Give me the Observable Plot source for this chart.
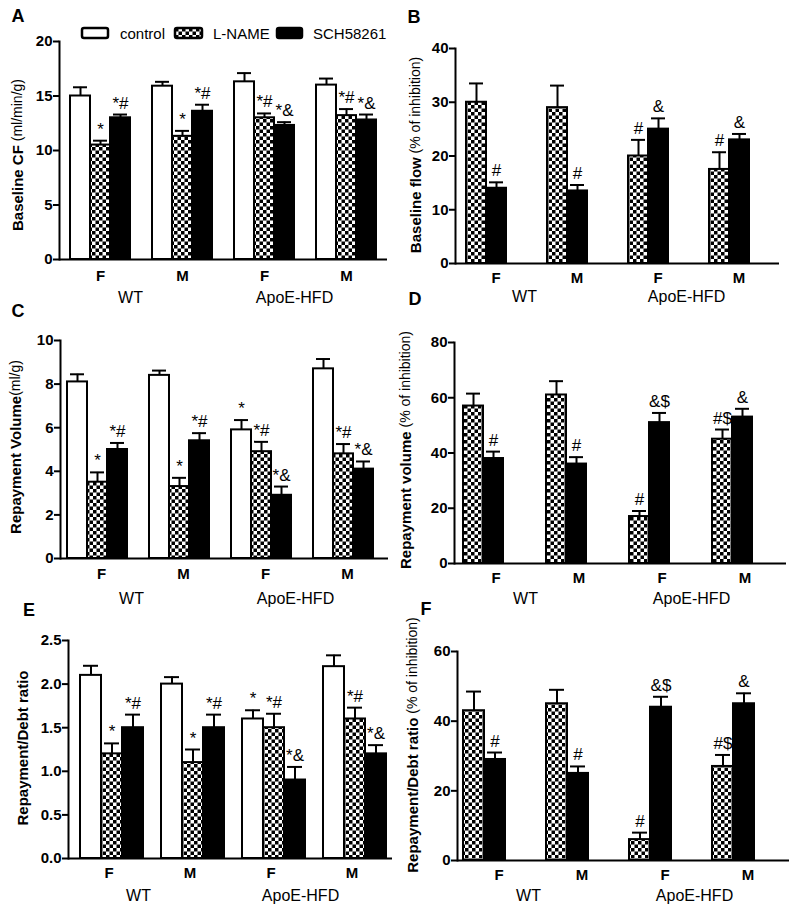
<!DOCTYPE html>
<html><head><meta charset="utf-8">
<script src="https://cdn.jsdelivr.net/npm/d3@7"></script>
<script src="https://cdn.jsdelivr.net/npm/@observablehq/plot@0.6"></script>
<style>
body{margin:0;background:#fff;}
#root{position:relative;width:800px;height:912px;overflow:hidden;font-family:"Liberation Sans",Arial,sans-serif;}
.panel{position:absolute;}
#overlay{position:absolute;left:0;top:0;pointer-events:none;}
</style></head><body>
<svg width="0" height="0" style="position:absolute"><defs>
<pattern id="checker" width="7" height="7" patternUnits="userSpaceOnUse">
<rect width="7" height="7" fill="#fff"/><rect width="3.5" height="3.5" fill="#000"/><rect x="3.5" y="3.5" width="3.5" height="3.5" fill="#000"/>
</pattern></defs></svg>
<div id="root"></div>
<script>
// ---- categories ----
const groups = ["WT-F","WT-M","ApoE-F","ApoE-M"];
const groupTicks = ["F","M","F","M"];
const genotypeGroups = ["WT-F","ApoE-F"];
const genotypeLabels = ["WT","ApoE-HFD"];
const treatments = ["control","L-NAME","SCH58261"];
const inhibitors = ["L-NAME","SCH58261"];
const fills = ["white","url(#checker)","black"];

// ---- Panel A: Baseline CF (ml/min/g) ----
const aControl = [15.0,15.9,16.3,16.0], aControlSem = [0.8,0.4,0.8,0.6], aControlSig = ["","","",""];
const aLname   = [10.5,11.3,13.0,13.2], aLnameSem   = [0.4,0.5,0.4,0.6], aLnameSig   = ["*","*","*#","*#"];
const aSch     = [13.0,13.6,12.3,12.8], aSchSem     = [0.3,0.6,0.3,0.5], aSchSig     = ["*#","*#","*&","*&"];
const aTicks = [0,5,10,15,20];

// ---- Panel B: Baseline flow (% of inhibition) ----
const bLname = [30,29,20,17.5], bLnameSem = [3.5,4.1,3.0,3.2], bLnameSig = ["","","#","#"];
const bSch   = [14,13.5,25,23], bSchSem   = [1.1,1.1,2.0,1.1], bSchSig   = ["#","#","&","&"];
const bTicks = [0,10,20,30,40];

// ---- Panel C: Repayment Volume (ml/g) ----
const cControl = [8.1,8.4,5.9,8.7], cControlSem = [0.35,0.22,0.45,0.45], cControlSig = ["","","*",""];
const cLname   = [3.5,3.3,4.9,4.8], cLnameSem   = [0.45,0.4,0.45,0.45], cLnameSig   = ["*","*","*#","*#"];
const cSch     = [5.0,5.4,2.9,4.1], cSchSem     = [0.3,0.35,0.4,0.35], cSchSig     = ["*#","*#","*&","*&"];
const cTicks = [0,2,4,6,8,10];

// ---- Panel D: Repayment volume (% of inhibition) ----
const dLname = [57,61,17,45], dLnameSem = [4.5,5,2,3.5], dLnameSig = ["","","#","#$"];
const dSch   = [38,36,51,53], dSchSem   = [2.5,2.5,3.5,3], dSchSig   = ["#","#","&$","&"];
const dTicks = [0,20,40,60,80];

// ---- Panel E: Repayment/Debt ratio ----
const eControl = [2.1,2.0,1.6,2.2], eControlSem = [0.11,0.08,0.1,0.13], eControlSig = ["","","*",""];
const eLname   = [1.2,1.1,1.5,1.6], eLnameSem   = [0.12,0.15,0.16,0.13], eLnameSig   = ["*","*","*#","*#"];
const eSch     = [1.5,1.5,0.9,1.2], eSchSem     = [0.15,0.15,0.15,0.1], eSchSig     = ["*#","*#","*&","*&"];
const eTicks = [0,0.5,1.0,1.5,2.0,2.5];

// ---- Panel F: Repayment/Debt ratio (% of inhibition) ----
const fLname = [43,45,6,27], fLnameSem = [5.5,4,2,3.3], fLnameSig = ["","","#","#$"];
const fSch   = [29,25,44,45], fSchSem   = [2,2,3,3], fSchSig   = ["#","#","&$","&"];
const fTicks = [0,20,40,60];

function rows(treatment, mean, sem, sig) {
  return groups.map((g, i) => ({group: g, treatment, mean: mean[i], sem: sem[i], sig: sig[i]}));
}
const genoData = genotypeGroups.map((g, i) => ({group: g, label: genotypeLabels[i]}));

const panels = [
  {left:0, top:0, width:400, height:300, mt:41, mr:12, mb:41, ml:58, yMax:20, ticks:aTicks, fmt:d=>d,
   tr:treatments, po:0.464, align:0.49, tp:11, gdy:38, gdx:-11,
   data:[...rows("control",aControl,aControlSem,aControlSig),...rows("L-NAME",aLname,aLnameSem,aLnameSig),...rows("SCH58261",aSch,aSchSem,aSchSig)]},
  {left:400, top:0, width:400, height:300, mt:48, mr:20, mb:37, ml:54, yMax:40, ticks:bTicks, fmt:d=>d,
   tr:inhibitors, po:0.94, align:0.28, tp:9, gdy:33, gdx:-12,
   data:[...rows("L-NAME",bLname,bLnameSem,bLnameSig),...rows("SCH58261",bSch,bSchSem,bSchSig)]},
  {left:0, top:300, width:400, height:310, mt:40, mr:11, mb:52, ml:58, yMax:10, ticks:cTicks, fmt:d=>d,
   tr:treatments, po:0.47, align:0.33, tp:10, gdy:40, gdx:-11,
   data:[...rows("control",cControl,cControlSem,cControlSig),...rows("L-NAME",cLname,cLnameSem,cLnameSig),...rows("SCH58261",cSch,cSchSem,cSchSig)]},
  {left:400, top:300, width:400, height:310, mt:42, mr:13, mb:47, ml:53, yMax:80, ticks:dTicks, fmt:d=>d,
   tr:inhibitors, po:1.0, align:0.22, tp:9, gdy:35, gdx:-12,
   data:[...rows("L-NAME",dLname,dLnameSem,dLnameSig),...rows("SCH58261",dSch,dSchSem,dSchSig)]},
  {left:0, top:610, width:400, height:302, mt:30, mr:7, mb:54, ml:67, yMax:2.5, ticks:eTicks, fmt:d3.format(".1f"),
   tr:treatments, po:0.41, align:0.65, tp:9, gdy:37, gdx:-11,
   data:[...rows("control",eControl,eControlSem,eControlSig),...rows("L-NAME",eLname,eLnameSem,eLnameSig),...rows("SCH58261",eSch,eSchSem,eSchSig)]},
  {left:400, top:610, width:400, height:302, mt:41, mr:10, mb:52, ml:55, yMax:60, ticks:fTicks, fmt:d=>d,
   tr:inhibitors, po:0.9, align:0.15, tp:9, gdy:35, gdx:-12,
   data:[...rows("L-NAME",fLname,fLnameSem,fLnameSig),...rows("SCH58261",fSch,fSchSem,fSchSig)]}
];

const root = document.getElementById("root");
const topOf = d => d.mean + d.sem;
for (const p of panels) {
  const chart = Plot.plot({
    width: p.width, height: p.height,
    marginTop: p.mt, marginRight: p.mr, marginBottom: p.mb, marginLeft: p.ml,
    style: {fontFamily: "'Liberation Sans', Arial, sans-serif", background: "transparent", overflow: "visible", color: "black"},
    fx: {domain: groups, padding: 0},
    x: {domain: p.tr, paddingInner: 0, paddingOuter: p.po, align: p.align, axis: null},
    y: {domain: [0, p.yMax]},
    color: {domain: treatments, range: fills},
    marks: [
      Plot.barY(p.data, {fx: "group", x: "treatment", y: "mean", fill: "treatment", stroke: "black", strokeWidth: 2}),
      Plot.ruleX(p.data, {fx: "group", x: "treatment", y1: "mean", y2: topOf, stroke: "black", strokeWidth: 2}),
      Plot.tickY(p.data, {fx: "group", x: "treatment", y: topOf, stroke: "black", strokeWidth: 2, insetLeft: 3, insetRight: 3}),
      Plot.text(p.data, {fx: "group", x: "treatment", y: topOf, text: "sig", lineAnchor: "bottom", dy: -6, fontSize: 17, fill: "black"}),
      Plot.ruleY([0], {stroke: "black", strokeWidth: 2}),
      Plot.frame({anchor: "left", facetAnchor: "left", stroke: "black", strokeWidth: 2}),
      Plot.axisY({ticks: p.ticks, tickFormat: p.fmt, tickSize: 6, tickPadding: 1, strokeWidth: 2, fontSize: 15, fontWeight: "bold", label: null}),
      Plot.axisFx({anchor: "bottom", tickSize: 0, tickPadding: p.tp, fontSize: 15, fontWeight: "bold", label: null, tickFormat: d => groupTicks[groups.indexOf(d)]}),
      Plot.text(genoData, {fx: "group", text: "label", frameAnchor: "bottom-right", textAnchor: "middle", lineAnchor: "middle", dx: p.gdx, dy: p.gdy, fontSize: 16, fill: "black"})
    ]
  });
  const div = document.createElement("div");
  div.className = "panel";
  div.style.left = p.left + "px";
  div.style.top = p.top + "px";
  div.appendChild(chart);
  root.appendChild(div);
}

// ---- overlay: panel letters, y-axis titles, legend ----
const letters = [["A",18,16],["B",414,17],["C",18,311],["D",415,299],["E",29,610],["F",426,609]];
const yTitles = [
  [17,155,"Baseline CF"," (ml/min/g)"],
  [415,155,"Baseline flow"," (% of inhibition)"],
  [15,447,"Repayment Volume","(ml/g)"],
  [405,450,"Repayment volume"," (% of inhibition)"],
  [22,748,"Repayment/Debt ratio",""],
  [412,745,"Repayment/Debt ratio"," (% of inhibition)"]
];
const legendItems = [["control",82,26,120],["L-NAME",175,27,213],["SCH58261",277,25,313]];
const NS = "http://www.w3.org/2000/svg";
const ov = document.createElementNS(NS, "svg");
ov.setAttribute("id", "overlay");
ov.setAttribute("width", 800); ov.setAttribute("height", 912);
ov.setAttribute("font-family", "'Liberation Sans', Arial, sans-serif");
function el(name, attrs, text) {
  const e = document.createElementNS(NS, name);
  for (const k in attrs) e.setAttribute(k, attrs[k]);
  if (text != null) e.textContent = text;
  return e;
}
for (const [t,x,y] of letters) ov.appendChild(el("text", {x, y, "font-size": 18, "font-weight": "bold", "text-anchor": "middle", "dominant-baseline": "central"}, t));
for (const [x,y,b,n] of yTitles) {
  const t = el("text", {transform: `translate(${x},${y}) rotate(-90)`, "text-anchor": "middle", "dominant-baseline": "central"});
  t.appendChild(el("tspan", {"font-weight": "bold", "font-size": 15}, b));
  if (n) t.appendChild(el("tspan", {"font-size": 14}, n));
  ov.appendChild(t);
}
legendItems.forEach(([name,x,w,tx], i) => {
  ov.appendChild(el("rect", {x, y: 28, width: w, height: 10, rx: 2, fill: fills[i], stroke: "black", "stroke-width": 2.5}));
  ov.appendChild(el("text", {x: tx, y: 33, "font-size": 15, "dominant-baseline": "central"}, name));
});
root.appendChild(ov);
</script>
</body></html>
